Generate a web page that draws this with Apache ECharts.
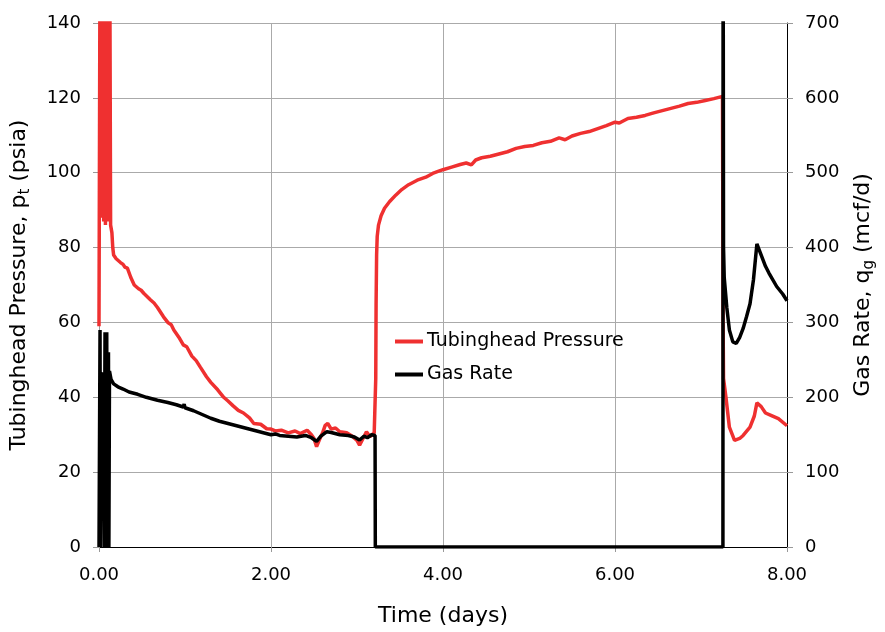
<!DOCTYPE html>
<html>
<head>
<meta charset="utf-8">
<script src="https://cdn.jsdelivr.net/npm/echarts@6/dist/echarts.min.js"></script>
<style>
html,body{margin:0;padding:0;background:#fff;}
#chart{width:885px;height:632px;}
</style>
</head>
<body>
<div id="chart"></div>
<script>
// Tubinghead pressure (time in days, psia)
var pressureData = [
[0,59],[0.005,59],[0.012,160],[0.02,95],[0.028,160],[0.035,88],[0.045,160],[0.055,87],[0.065,160],[0.075,86],
[0.085,160],[0.095,87],[0.105,160],[0.115,90],[0.125,160],[0.135,86],[0.15,84],[0.16,80],[0.17,78],[0.2,77],
[0.25,76],[0.28,75.5],[0.3,74.8],[0.33,74.5],[0.37,72],[0.41,70],[0.46,69],[0.49,68.6],[0.52,67.8],[0.6,66],[0.64,65.2],[0.68,64],[0.75,61.5],
[0.8,60],[0.84,59.4],[0.87,58],[0.93,56],[0.98,54],[1.02,53.5],[1.08,51],[1.13,49.8],[1.18,48],[1.25,45.5],[1.3,44],[1.38,42],
[1.45,40],[1.5,39],[1.56,37.7],[1.62,36.5],[1.68,35.8],[1.75,34.5],[1.8,33],[1.88,32.8],[1.95,31.6],[2.0,31.5],
[2.05,31],[2.12,31.2],[2.2,30.5],[2.28,31],[2.34,30.3],[2.42,31.2],[2.47,30],[2.5,29],[2.53,26.8],[2.56,28.5],
[2.6,30.5],[2.63,32.5],[2.66,33],[2.7,31.5],[2.75,31.8],[2.8,30.8],[2.88,30.5],[2.95,29.5],[3.0,28.5],[3.03,27.2],
[3.07,29],[3.11,30.8],[3.15,29.5],[3.2,30.5],[3.215,30],
[3.218,45],[3.222,65],[3.228,78],[3.235,83],[3.25,86],[3.28,88.5],[3.32,90.5],[3.38,92.3],[3.45,94],[3.52,95.5],
[3.6,96.8],[3.7,98],[3.8,98.8],[3.88,99.8],[3.95,100.4],[4.0,100.8],[4.1,101.5],[4.2,102.2],[4.27,102.6],[4.33,102.1],
[4.38,103.4],[4.45,104],[4.55,104.4],[4.65,105],[4.75,105.6],[4.85,106.5],[4.95,107],[5.05,107.3],[5.15,108],[5.25,108.4],
[5.35,109.3],[5.42,108.8],[5.5,109.8],[5.6,110.5],[5.7,111],[5.8,111.8],[5.9,112.6],[6.0,113.5],[6.05,113.3],[6.15,114.5],
[6.25,114.8],[6.35,115.3],[6.45,116],[6.55,116.6],[6.65,117.2],[6.75,117.8],[6.85,118.5],[6.95,118.8],[7.05,119.3],[7.15,119.8],
[7.25,120.4],[7.256,120.5],[7.257,60],[7.262,45],[7.29,40],[7.33,32],[7.39,28.5],[7.45,29],[7.49,29.8],[7.57,32],
[7.62,35],[7.65,38.5],[7.7,37.5],[7.75,35.8],[7.8,35.3],[7.9,34.3],[8.0,32.4]
];
// Gas rate (time in days, mcf/d)
var gasRateData = [
[0,0],[0.01,0],[0.012,290],[0.016,0],[0.022,0],[0.026,232],[0.05,230],[0.058,230],[0.06,0],[0.066,0],
[0.07,287],[0.075,0],[0.085,0],[0.09,287],[0.095,0],[0.105,0],[0.11,260],[0.115,0],[0.118,0],[0.122,235],
[0.14,224],[0.17,218],[0.22,214],[0.28,211],[0.35,207],[0.45,204],[0.55,200],[0.68,196],[0.8,193],[0.9,190],
[0.98,187],[0.99,191],[1.0,186],[1.1,182],[1.2,177],[1.3,172],[1.4,168],[1.5,165],[1.6,162],[1.7,159],
[1.8,156],[1.9,153],[2.0,150],[2.05,151],[2.1,149],[2.2,148],[2.3,147],[2.4,149],[2.47,146],[2.53,141],
[2.58,148],[2.65,154],[2.7,153],[2.8,150],[2.9,149],[2.97,147],[3.03,143],[3.08,148],[3.12,146],[3.17,150],
[3.21,149],[3.213,0],[7.255,0],[7.257,900],[7.262,400],[7.27,360],[7.3,320],[7.33,290],[7.37,274],[7.41,272],
[7.45,280],[7.49,292],[7.53,308],[7.57,325],[7.61,357],[7.65,405],[7.7,390],[7.75,375],[7.79,366],[7.88,348],
[7.95,338],[8.0,329]
];
var xTickLabels = ['0.00','2.00','4.00','6.00','8.00'];
var leftTickLabels = ['0','20','40','60','80','100','120','140'];
var rightTickLabels = ['0','100','200','300','400','500','600','700'];
var seriesNames = ['Tubinghead Pressure','Gas Rate'];

var FONT = 'DejaVu Sans';
var chart = echarts.init(document.getElementById('chart'), null, {renderer:'canvas'});
var option = {
  animation: false,
  backgroundColor: '#fff',
  textStyle: {fontFamily: FONT},
  grid: {left: 99, right: 98, top: 23, bottom: 83, containLabel: false},
  legend: {
    orient: 'vertical', left: 390, top: 327,
    itemWidth: 28, itemHeight: 4, itemGap: 14,
    icon: 'rect',
    textStyle: {fontFamily: FONT, fontSize: 19, color: '#000', padding: [0,0,0,-1]},
    data: seriesNames
  },
  xAxis: {
    type: 'value', min: 0, max: 8, interval: 2,
    name: 'Time (days)', nameLocation: 'middle', nameGap: 58,
    nameTextStyle: {fontFamily: FONT, fontSize: 22, color: '#000'},
    axisLine: {show: true, lineStyle: {color: '#000', width: 1}},
    axisTick: {show: true, inside: false, length: 5, lineStyle: {color: '#999'}},
    axisLabel: {fontFamily: FONT, fontSize: 18, color: '#000', margin: 19,
      formatter: function(v){ return xTickLabels[Math.round(v/2)]; }},
    splitLine: {show: true, lineStyle: {color: '#aaa', width: 1}}
  },
  yAxis: [{
    type: 'value', min: 0, max: 140, interval: 20, position: 'left',
    name: '{a|Tubinghead Pressure, p}{s|t}{a| (psia)}', nameLocation: 'middle', nameGap: 66, nameRotate: 90,
    nameTextStyle: {fontFamily: FONT, fontSize: 22, color: '#000',
      rich: {a: {fontFamily: FONT, fontSize: 22, color: '#000', lineHeight: 28},
             s: {fontFamily: FONT, fontSize: 15, color: '#000', verticalAlign: 'bottom', lineHeight: 20}}},
    axisLine: {show: true, lineStyle: {color: '#999', width: 1}},
    axisTick: {show: true, inside: false, length: 6, lineStyle: {color: '#999'}},
    axisLabel: {fontFamily: FONT, fontSize: 18, color: '#000', margin: 18,
      formatter: function(v){ return leftTickLabels[Math.round(v/20)]; }},
    splitLine: {show: true, lineStyle: {color: '#aaa', width: 1}}
  },{
    type: 'value', min: 0, max: 700, interval: 100, position: 'right',
    name: '{a|Gas Rate, q}{s|g}{a| (mcf/d)}', nameLocation: 'middle', nameGap: 62, nameRotate: 90,
    nameTextStyle: {fontFamily: FONT, fontSize: 22, color: '#000',
      rich: {a: {fontFamily: FONT, fontSize: 22, color: '#000', lineHeight: 28},
             s: {fontFamily: FONT, fontSize: 15, color: '#000', verticalAlign: 'bottom', lineHeight: 20}}},
    axisLine: {show: true, lineStyle: {color: '#000', width: 1}},
    axisTick: {show: true, inside: false, length: 6, lineStyle: {color: '#999'}},
    axisLabel: {fontFamily: FONT, fontSize: 18, color: '#000', margin: 18,
      formatter: function(v){ return rightTickLabels[Math.round(v/100)]; }},
    splitLine: {show: false}
  }],
  series: [{
    name: seriesNames[0], type: 'line', yAxisIndex: 0, data: pressureData,
    symbol: 'none', clip: true,
    itemStyle: {color: '#ef3030'},
    lineStyle: {color: '#ef3030', width: 3.5},
    z: 2
  },{
    name: seriesNames[1], type: 'line', yAxisIndex: 1, data: gasRateData,
    symbol: 'none', clip: true,
    itemStyle: {color: '#000'},
    lineStyle: {color: '#000', width: 3.5},
    z: 3
  }]
};
chart.setOption(option);
</script>
</body>
</html>
